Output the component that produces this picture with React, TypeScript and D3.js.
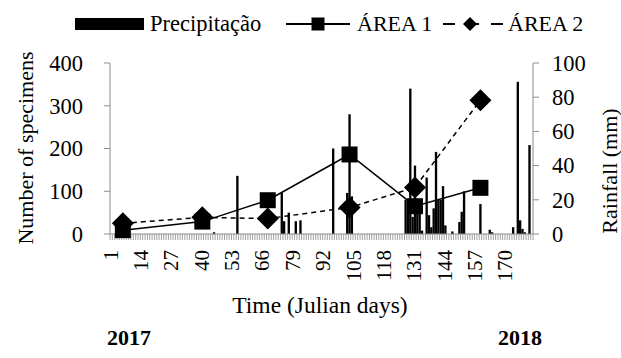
import React from 'react';
import * as d3 from 'd3';

// category axis: one slot per Julian day
const dayDomain = d3.range(1, 182);
const tickDays = [1, 14, 27, 40, 53, 66, 79, 92, 105, 118, 131, 144, 157, 170];

// rainfall (mm), right axis
const rainDays = [45, 55, 74, 75, 77, 80, 82, 96, 102, 103, 104, 127, 128, 129, 130, 131, 132, 133, 134,
  136, 137, 138, 139, 140, 141, 142, 143, 144, 147, 150, 151, 152, 159, 163, 164, 173, 175, 176, 177, 178, 180];
const rainMm = [1, 34, 24, 7.5, 12.5, 7.5, 8, 50, 24, 70, 22, 20, 12, 85, 10, 40, 12, 12, 2,
  33, 11, 4, 15, 48, 20, 20, 28, 5, 1.5, 7, 13, 25, 17.5, 2.5, 1, 4, 89, 8, 3, 1, 52];

// specimens, left axis
const sampleDays = [6, 40, 68, 103, 131, 159];
const area1 = [9, 29, 79, 186, 65, 108];
const area2 = [25, 39, 36, 62, 109, 313];

const leftTicks = [0, 100, 200, 300, 400];
const rightTicks = [0, 20, 40, 60, 80, 100];

const W = 621;
const H = 358;
const plot = { left: 110, right: 533, top: 63, bottom: 234 };
const axisColor = '#8c8c8c';
const font = 'Liberation Serif, DejaVu Serif, serif';

export default function App() {
  const x = d3.scaleBand<number>().domain(dayDomain).range([plot.left, plot.right]).padding(0);
  const yL = d3.scaleLinear().domain([0, 400]).range([plot.bottom, plot.top]);
  const yR = d3.scaleLinear().domain([0, 100]).range([plot.bottom, plot.top]);
  const bw = x.bandwidth();
  const cx = (d: number) => (x(d) as number) + bw / 2;

  const line1 = d3.line<number>().x((_, i) => cx(sampleDays[i])).y(v => yL(v))(area1) || '';
  const line2 = d3.line<number>().x((_, i) => cx(sampleDays[i])).y(v => yL(v))(area2) || '';

  const sq = 16;
  const dm = 11;

  return (
    <svg width={W} height={H} style={{ position: 'absolute', left: 0, top: 0, background: '#fff' }}>
      <g fontFamily={font}>
      {/* legend */}
      <rect x={75} y={18} width={69} height={12} fill="#000" />
      <text x={150} y={31} fontSize={22.5}>Precipitação</text>
      <line x1={286} x2={350} y1={24} y2={24} stroke="#000" strokeWidth={2} />
      <rect x={318 - 6.5} y={24 - 6.5} width={13} height={13} fill="#000" />
      <text x={357} y={31} fontSize={22}>ÁREA 1</text>
      <line x1={441} x2={503} y1={24} y2={24} stroke="#000" strokeWidth={2} strokeDasharray="12,12" strokeDashoffset={-2} />
      <path d={`M470,${24 - 7}L477,24L470,${24 + 7}L463,24Z`} fill="#000" />
      <text x={508} y={31} fontSize={22}>ÁREA 2</text>

      {/* axes */}
      <line x1={plot.left} x2={plot.left} y1={plot.top} y2={plot.bottom} stroke={axisColor} />
      <line x1={plot.right} x2={plot.right} y1={plot.top} y2={plot.bottom} stroke={axisColor} />
      {leftTicks.map(t => (
        <g key={'l' + t}>
          <line x1={plot.left - 6} x2={plot.left} y1={yL(t)} y2={yL(t)} stroke={axisColor} />
          <text x={83} y={yL(t)} dy="0.35em" textAnchor="end" fontSize={22.5}>{t}</text>
        </g>
      ))}
      {rightTicks.map(t => (
        <g key={'r' + t}>
          <line x1={plot.right} x2={plot.right + 6} y1={yR(t)} y2={yR(t)} stroke={axisColor} />
          <text x={552} y={yR(t)} dy="0.35em" fontSize={22.5}>{t}</text>
        </g>
      ))}

      {/* rainfall bars */}
      {rainDays.map((d, i) => (
        <rect key={'b' + d} x={x(d)} y={yR(rainMm[i])} width={bw} height={plot.bottom - yR(rainMm[i])} fill="#000" />
      ))}

      {/* bottom axis */}
      <line x1={plot.left} x2={plot.right} y1={plot.bottom} y2={plot.bottom} stroke={axisColor} />
      {dayDomain.map(d => (
        <line key={'t' + d} x1={x(d)} x2={x(d)} y1={plot.bottom} y2={plot.bottom + 6} stroke={axisColor} strokeWidth={0.8} />
      ))}
      <line x1={plot.right} x2={plot.right} y1={plot.bottom} y2={plot.bottom + 6} stroke={axisColor} strokeWidth={0.8} />
      {tickDays.map(d => (
        <text key={'x' + d} transform={`translate(${cx(d) - 1},250) rotate(-90)`} textAnchor="end" dy="0.35em" fontSize={21}>{d}</text>
      ))}

      {/* ÁREA 1 */}
      <path d={line1} fill="none" stroke="#000" strokeWidth={1.5} />
      {sampleDays.map((d, i) => (
        <rect key={'s' + d} x={cx(d) - sq / 2} y={yL(area1[i]) - sq / 2} width={sq} height={sq} fill="#000" />
      ))}

      {/* ÁREA 2 */}
      <path d={line2} fill="none" stroke="#000" strokeWidth={1.5} strokeDasharray="5,4" />
      {sampleDays.map((d, i) => {
        const px = cx(d);
        const py = yL(area2[i]);
        return <path key={'d' + d} d={`M${px},${py - dm}L${px + dm},${py}L${px},${py + dm}L${px - dm},${py}Z`} fill="#000" />;
      })}

      {/* titles */}
      <text transform="translate(25,148) rotate(-90)" textAnchor="middle" dy="0.35em" fontSize={22}>Number of specimens</text>
      <text transform="translate(609,171) rotate(-90)" textAnchor="middle" dy="0.35em" fontSize={22}>Rainfall (mm)</text>
      <text x={320} y={313} textAnchor="middle" fontSize={23.5}>Time (Julian days)</text>
      <text x={129} y={345} textAnchor="middle" fontSize={22} fontWeight="bold">2017</text>
      <text x={520} y={345} textAnchor="middle" fontSize={22} fontWeight="bold">2018</text>
      </g>
    </svg>
  );
}
